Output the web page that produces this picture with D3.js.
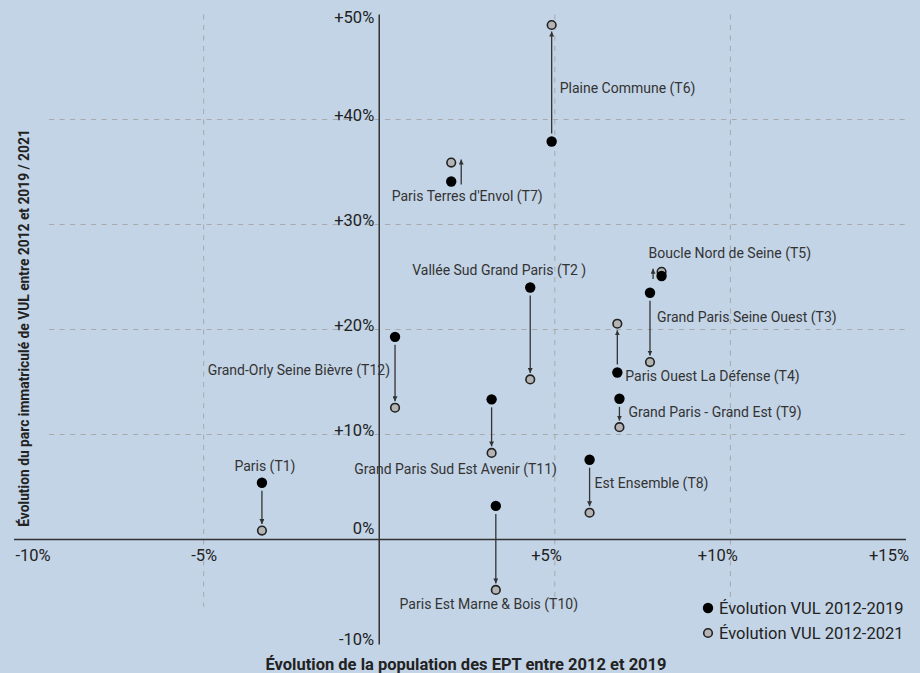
<!DOCTYPE html>
<html lang="fr">
<head>
  <meta charset="UTF-8">
  <title>Évolution VUL / population des EPT</title>
  <script src="https://d3js.org/d3.v7.min.js"></script>
  <style>
    body { margin: 0; background: #c3d4e6; }
    svg { display: block; font-family: Roboto, "Noto Sans", sans-serif; }
    .grid { stroke: #a9a9aa; stroke-width: 1; stroke-dasharray: 5,5.5; }
    .axis-line { stroke: #333; stroke-width: 1.5; }
    .tick-label { font-size: 16.5px; fill: #222; }
    .pt-label { font-size: 14px; fill: #333; }
    .arrow { stroke: #333; stroke-width: 1.3; fill: none; }
    .title { font-weight: bold; fill: #222; }
  </style>
</head>
<body>
  <svg id="chart" width="920" height="673"></svg>

  <script>
    // EPT names
    const epts = [
      "Paris (T1)",
      "Vallée Sud Grand Paris (T2 )",
      "Grand Paris Seine Ouest (T3)",
      "Paris Ouest La Défense (T4)",
      "Boucle Nord de Seine (T5)",
      "Plaine Commune (T6)",
      "Paris Terres d'Envol (T7)",
      "Est Ensemble (T8)",
      "Grand Paris - Grand Est (T9)",
      "Paris Est Marne & Bois (T10)",
      "Grand Paris Sud Est Avenir (T11)",
      "Grand-Orly Seine Bièvre (T12)"
    ];
    // population change 2012-2019 (%)
    const popChange = [-3.34, 4.30, 7.71, 6.78, 8.04, 4.91, 2.05, 5.99, 6.84, 3.32, 3.20, 0.45];
    // VUL change 2012-2019 (%)
    const vul2019 = [5.4, 24.0, 23.5, 15.9, 25.1, 37.9, 34.1, 7.6, 13.4, 3.2, 13.35, 19.3];
    // VUL change 2012-2021 (%)
    const vul2021 = [0.85, 15.25, 16.9, 20.55, 25.5, 49.0, 35.9, 2.55, 10.7, -4.8, 8.25, 12.55];

    const xTicks = [-10, -5, 5, 10, 15];
    const yTicks = [-10, 0, 10, 20, 30, 40, 50];
    const xGrid = [-5, 5, 10];
    const yGrid = [10, 20, 30, 40];
    const legendLabels = ["Évolution VUL 2012-2019", "Évolution VUL 2012-2021"];

    // label placement, relative to the 2019 point (a) or the 2021 point (b)
    const labelPos = [
      { anchor: "middle", ref: "a", dx: 3, dy: -12 },
      { anchor: "middle", ref: "a", dx: -31, dy: -13 },
      { anchor: "start", ref: "a", dx: 7, dy: 29 },
      { anchor: "start", ref: "a", dx: 8, dy: 8 },
      { anchor: "start", ref: "a", dx: -13, dy: -18 },
      { anchor: "start", ref: "a", dx: 8, dy: -49 },
      { anchor: "middle", ref: "a", dx: 16, dy: 20 },
      { anchor: "start", ref: "a", dx: 5, dy: 28 },
      { anchor: "start", ref: "a", dx: 9, dy: 18 },
      { anchor: "middle", ref: "b", dx: -7, dy: 19 },
      { anchor: "middle", ref: "b", dx: -36, dy: 21 },
      { anchor: "end", ref: "a", dx: -5, dy: 38 }
    ];
    // points too close together: arrow drawn beside them
    const sideArrow = { 4: -8.5, 6: 10 };

    const svg = d3.select("#chart");

    const x = d3.scaleLinear().domain([-10.4, 15]).range([14, 906]);
    const y = d3.scaleLinear().domain([-10, 50]).range([644.5, 14.5]);
    const xLabel = d3.scaleLinear().domain([-10, 15]).range([33, 889]);

    // arrow head
    svg.append("defs").append("marker")
      .attr("id", "head")
      .attr("viewBox", "0 0 10 10")
      .attr("refX", 10).attr("refY", 5)
      .attr("markerWidth", 5).attr("markerHeight", 5)
      .attr("markerUnits", "userSpaceOnUse")
      .attr("orient", "auto")
      .append("path")
      .attr("d", "M0,0 L10,5 L0,10 Z")
      .attr("fill", "#333");

    // grid
    svg.selectAll(".hgrid").data(yGrid).enter().append("line")
      .attr("class", "grid")
      .attr("x1", x(-9.4)).attr("x2", x(15))
      .attr("y1", d => y(d)).attr("y2", d => y(d));
    svg.selectAll(".vgrid").data(xGrid).enter().append("line")
      .attr("class", "grid")
      .attr("x1", d => x(d)).attr("x2", d => x(d))
      .attr("y1", y(50)).attr("y2", y(-6.4));

    // axes through zero
    svg.append("line").attr("class", "axis-line")
      .attr("x1", x(-10.4)).attr("x2", x(15))
      .attr("y1", y(0)).attr("y2", y(0));
    svg.append("line").attr("class", "axis-line")
      .attr("x1", x(0)).attr("x2", x(0))
      .attr("y1", y(50)).attr("y2", y(-10));

    const fmt = v => v === 0 ? "0%" : (v > 0 ? "+" : "") + v + "%";

    svg.selectAll(".xt").data(xTicks).enter().append("text")
      .attr("class", "tick-label")
      .attr("text-anchor", "middle")
      .attr("x", d => xLabel(d))
      .attr("y", y(0) + 21)
      .text(fmt);

    const yShift = { "-10": 0, "0": -5.5, "50": 8 };
    svg.selectAll(".yt").data(yTicks).enter().append("text")
      .attr("class", "tick-label")
      .attr("text-anchor", "end")
      .attr("x", x(0) - 5)
      .attr("y", d => y(d) + (yShift[d] !== undefined ? yShift[d] : 1.5))
      .text(fmt);

    // arrows
    epts.forEach((name, i) => {
      const ya = y(vul2019[i]), yb = y(vul2021[i]);
      const dir = yb > ya ? 1 : -1;
      let px = x(popChange[i]), y1, y2;
      if (sideArrow[i] !== undefined) {
        px += sideArrow[i];
        y1 = ya - dir * 3;
        y2 = yb + dir * 3;
      } else {
        y1 = ya + dir * 8;
        y2 = yb - dir * 6.5;
      }
      svg.append("line").attr("class", "arrow")
        .attr("x1", px).attr("x2", px)
        .attr("y1", y1).attr("y2", y2)
        .attr("marker-end", "url(#head)");
    });

    // points
    svg.selectAll(".p2021").data(epts).enter().append("circle")
      .attr("cx", (d, i) => x(popChange[i]))
      .attr("cy", (d, i) => y(vul2021[i]))
      .attr("r", 4.3)
      .attr("fill", "#b4b4b4")
      .attr("stroke", "#222")
      .attr("stroke-width", 1.6);
    svg.selectAll(".p2019").data(epts).enter().append("circle")
      .attr("cx", (d, i) => x(popChange[i]))
      .attr("cy", (d, i) => y(vul2019[i]))
      .attr("r", 5.2)
      .attr("fill", "#000");

    // labels
    svg.selectAll(".pt-label").data(epts).enter().append("text")
      .attr("class", "pt-label")
      .attr("text-anchor", (d, i) => labelPos[i].anchor)
      .attr("x", (d, i) => x(popChange[i]) + labelPos[i].dx)
      .attr("y", (d, i) => y(labelPos[i].ref === "a" ? vul2019[i] : vul2021[i]) + labelPos[i].dy)
      .text(d => d);

    // legend
    const lg = svg.append("g").attr("transform", "translate(708,608)");
    lg.append("circle").attr("cx", 0).attr("cy", 0).attr("r", 5.2).attr("fill", "#000");
    lg.append("circle").attr("cx", 0).attr("cy", 25).attr("r", 4.3)
      .attr("fill", "#b4b4b4").attr("stroke", "#222").attr("stroke-width", 1.6);
    lg.selectAll("text").data(legendLabels).enter().append("text")
      .attr("x", 11).attr("y", (d, i) => 6 + i * 25)
      .style("font-size", "16.5px").attr("fill", "#222")
      .text(d => d);

    // axis titles
    svg.append("text").attr("class", "title")
      .attr("text-anchor", "middle")
      .attr("x", 466).attr("y", 670)
      .style("font-size", "16.5px")
      .text("Évolution de la population des EPT entre 2012 et 2019");
    svg.append("text").attr("class", "title")
      .attr("text-anchor", "middle")
      .attr("transform", "translate(29,328) rotate(-90)")
      .style("font-size", "13.8px")
      .text("Évolution du parc immatriculé de VUL entre 2012 et 2019 / 2021");
  </script>
</body>
</html>
